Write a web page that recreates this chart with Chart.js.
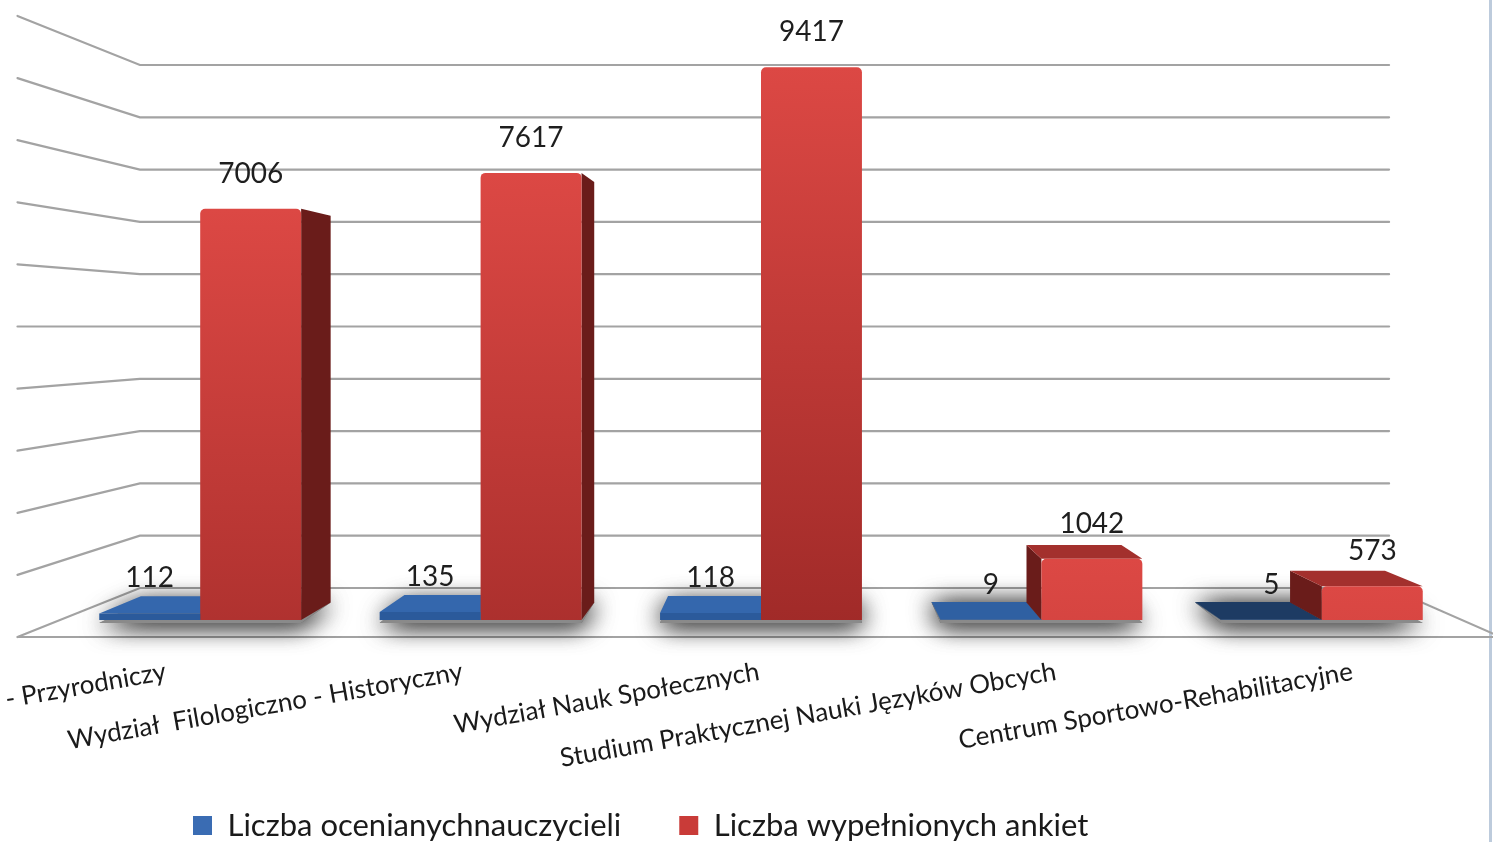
<!DOCTYPE html>
<html>
<head>
<meta charset="utf-8">
<script src="https://cdn.jsdelivr.net/npm/chart.js@4.4.1/dist/chart.umd.min.js"></script>
<style>
  html, body { margin: 0; padding: 0; background: #ffffff; overflow: hidden; }
  #wrap { width: 1493px; height: 842px; position: relative; }
</style>
</head>
<body>
<div id="wrap"><canvas id="c" width="1493" height="842"></canvas></div>
<script>
// ---------------- data ----------------
const CATEGORIES = [
  "- Przyrodniczy",
  "Wydział  Filologiczno - Historyczny",
  "Wydział Nauk Społecznych",
  "Studium Praktycznej Nauki Języków Obcych",
  "Centrum Sportowo-Rehabilitacyjne"
];
const SERIES_NAMES = ["Liczba ocenianychnauczycieli", "Liczba wypełnionych ankiet"];
const TEACHERS = [112, 135, 118, 9, 5];
const SURVEYS = [7006, 7617, 9417, 1042, 573];
const GRID_VALUES = [0, 1000, 2000, 3000, 4000, 5000, 6000, 7000, 8000, 9000, 10000];
const Y_MIN = 0;
const Y_MAX = 10000;

// ---------------- 3D look (style) ----------------
const VPX = 0.5228;     // vanishing point, fraction of chart-area width
const VPY = 0.5;        // vanishing point, fraction of chart-area height (from bottom)
const K_FRONT = 1.058;  // floor front edge (in front of bars)
const K_BAR = 0.94;     // back face of the bars
const K_WALL = 0.891;   // back wall
const FACE = {
  front: ['#2b5a9b', null],
  side:  ['#1e406e', '#6a1c1a'],
  top:   [['#3467ad', '#3467ad', '#3467ad', '#2f60a2', '#1d3b63'], ['#a3302d', '#a3302d', '#a3302d', '#a3302d', '#a3302d']]
};
const LEGEND_COLORS = ['#3a6cb3', '#c93b38'];
const FONT = 'Lato';

// label axis range: puts each category label on the floor front edge
const N = CATEGORIES.length;
const X2_MIN = -(VPX + K_FRONT * (0.5 / N - VPX)) * N / K_FRONT;
const X2_MAX = X2_MIN + N / K_FRONT;

function vanishing(chart) {
  const a = chart.chartArea;
  return { x: a.left + VPX * (a.right - a.left), y: a.bottom - VPY * (a.bottom - a.top) };
}
function proj(vp, x, y, k) { return [vp.x + k * (x - vp.x), vp.y + k * (y - vp.y)]; }
function poly(ctx, pts, fill) {
  ctx.beginPath();
  ctx.moveTo(pts[0][0], pts[0][1]);
  for (let i = 1; i < pts.length; i++) ctx.lineTo(pts[i][0], pts[i][1]);
  ctx.closePath();
  ctx.fillStyle = fill;
  ctx.fill();
}

const depthPlugin = {
  id: 'depth3d',
  beforeDraw(chart) {
    const ctx = chart.ctx;
    ctx.save();
    ctx.strokeStyle = '#bdcbdc';
    ctx.lineWidth = 3;
    ctx.beginPath(); ctx.moveTo(1490.5, 0); ctx.lineTo(1490.5, chart.height); ctx.stroke();
    ctx.restore();
  },
  beforeDatasetsDraw(chart) {
    const ctx = chart.ctx, a = chart.chartArea, ys = chart.scales.y;
    const vp = vanishing(chart);
    ctx.save();
    // walls + floor
    ctx.strokeStyle = '#a3a3a3';
    ctx.lineWidth = 2.2;
    ctx.lineCap = 'round';
    GRID_VALUES.forEach(v => {
      const yp = ys.getPixelForValue(v);
      const f1 = proj(vp, a.left, yp, K_FRONT), b1 = proj(vp, a.left, yp, K_WALL), b2 = proj(vp, a.right, yp, K_WALL);
      ctx.beginPath();
      ctx.moveTo(f1[0], f1[1]); ctx.lineTo(b1[0], b1[1]); ctx.lineTo(b2[0], b2[1]);
      if (v === Y_MIN) {
        const f2 = proj(vp, a.right, yp, K_FRONT);
        ctx.lineTo(f2[0], f2[1]);
        ctx.moveTo(f1[0], f1[1]); ctx.lineTo(f2[0], f2[1]);
      }
      ctx.stroke();
    });
    // shadows on the floor
    const m0 = chart.getDatasetMeta(0), m1 = chart.getDatasetMeta(1);
    m0.data.forEach((b0, i) => {
      const b1 = m1.data[i];
      const L = b0.x - b0.width / 2, R = b1.x + b1.width / 2, B = b0.base;
      const pts = [[L, B + 3], [R, B + 3], proj(vp, R, B, K_BAR), proj(vp, L, B, K_BAR)];
      ctx.save();
      ctx.shadowColor = 'rgba(0,0,0,0.7)';
      ctx.shadowBlur = 26;
      ctx.shadowOffsetY = 2;
      poly(ctx, pts, '#8a8a8a');
      poly(ctx, pts, '#8a8a8a');
      ctx.restore();
    });
    // side and top faces
    [0, 1].forEach(di => {
      chart.getDatasetMeta(di).data.forEach((bar, i) => {
        const L = bar.x - bar.width / 2, R = bar.x + bar.width / 2;
        const T = Math.min(bar.y, bar.base), B = bar.base;
        if (R < vp.x) {
          poly(ctx, [[R, T], [R, B], proj(vp, R, B, K_BAR), proj(vp, R, T, K_BAR)], FACE.side[di]);
        } else if (L > vp.x) {
          poly(ctx, [[L, T], [L, B], proj(vp, L, B, K_BAR), proj(vp, L, T, K_BAR)], FACE.side[di]);
        }
        if (T > vp.y) {
          poly(ctx, [[L, T], [R, T], proj(vp, R, T, K_BAR), proj(vp, L, T, K_BAR)], FACE.top[di][i]);
        }
      });
    });
    ctx.restore();
  },
  afterDatasetsDraw(chart) {
    const ctx = chart.ctx;
    ctx.save();
    ctx.font = '28px ' + FONT;
    ctx.fillStyle = '#1e1e1e';
    ctx.textAlign = 'center';
    ctx.textBaseline = 'middle';
    chart.data.datasets.forEach((ds, di) => {
      chart.getDatasetMeta(di).data.forEach((bar, i) => {
        ctx.fillText(String(ds.data[i]), bar.x, Math.min(bar.y, bar.base) - 35);
      });
    });
    ctx.restore();
  },
  afterLayout(chart) {
    const lg = chart.legend;
    if (!lg) return;
    const pad = lg.options.labels.padding;
    const dx = (193 - pad) - lg.left;
    lg.left += dx; lg.right = chart.width;
    lg.top = 810 - pad; lg.bottom = chart.height;
  }
};

function redGradient(c) {
  const ch = c.chart;
  if (!ch.chartArea || !ch.scales.y) return '#c93b38';
  const top = ch.scales.y.getPixelForValue(c.raw);
  const g = ch.ctx.createLinearGradient(0, top, 0, top + 560);
  g.addColorStop(0, '#dc4844');
  g.addColorStop(1, '#a02a28');
  return g;
}

new Chart(document.getElementById('c'), {
  type: 'bar',
  data: {
    labels: CATEGORIES,
    datasets: [
      { label: SERIES_NAMES[0], data: TEACHERS, backgroundColor: FACE.front[0], borderWidth: 0 },
      { label: SERIES_NAMES[1], data: SURVEYS, backgroundColor: redGradient, borderWidth: 0, borderRadius: 5 }
    ]
  },
  options: {
    responsive: false,
    maintainAspectRatio: false,
    animation: false,
    devicePixelRatio: 1,
    events: [],
    layout: { padding: { top: 33, left: 60, right: 31, bottom: 0 } },
    datasets: { bar: { categoryPercentage: 0.72, barPercentage: 1.0 } },
    scales: {
      x: { type: 'category', display: false },
      x2: {
        type: 'linear',
        position: 'bottom',
        min: X2_MIN,
        max: X2_MAX,
        bounds: 'data',
        offset: false,
        grid: { display: false, drawTicks: false, offset: false },
        border: { display: false },
        afterBuildTicks: (scale) => { scale.ticks = CATEGORIES.map((_, i) => ({ value: i })); },
        ticks: {
          autoSkip: false,
          minRotation: 10,
          maxRotation: 10,
          padding: 36,
          color: '#1a1a1a',
          font: { family: FONT, size: 26 },
          callback: (v) => CATEGORIES[Math.round(v)] || ''
        },
        afterFit: (scale) => { scale.height = 175; scale.paddingLeft = 0; scale.paddingRight = 0; }
      },
      y: { type: 'linear', display: false, min: Y_MIN, max: Y_MAX, ticks: { stepSize: 1000 } }
    },
    plugins: {
      tooltip: { enabled: false },
      legend: {
        position: 'bottom',
        align: 'start',
        maxHeight: 47,
        labels: {
          padding: 58,
          boxWidth: 19,
          boxHeight: 19,
          color: '#1a1a1a',
          font: { family: FONT, size: 31 },
          generateLabels: (chart) => Chart.defaults.plugins.legend.labels.generateLabels(chart).map((it, i) => {
            it.fillStyle = LEGEND_COLORS[i]; it.strokeStyle = LEGEND_COLORS[i]; it.lineWidth = 0; return it;
          })
        }
      }
    }
  },
  plugins: [depthPlugin]
});
</script>
</body>
</html>
